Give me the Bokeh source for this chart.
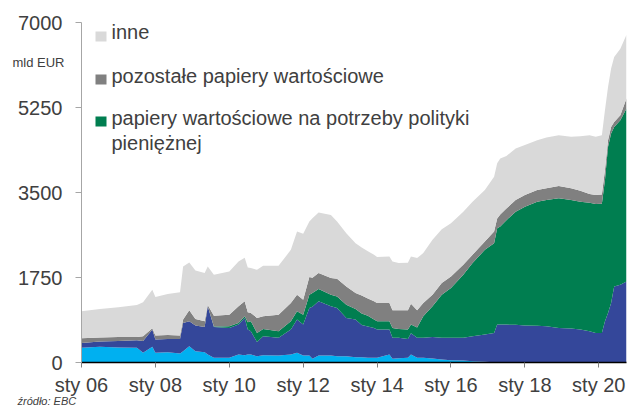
import pandas as pd
from bokeh.plotting import figure
from bokeh.models import ColumnDataSource, FixedTicker, Label, BoxAnnotation, LinearAxis, Title
from bokeh.embed import file_html
from bokeh.resources import INLINE

# ---- data (mld EUR) ----
months = ["2006-01", "2006-07", "2007-01", "2007-07", "2007-09", "2007-12", "2008-01", "2008-05",
          "2008-09", "2008-10", "2008-12", "2009-02", "2009-05", "2009-06", "2009-08", "2010-01",
          "2010-04", "2010-06", "2010-07", "2010-08", "2010-10", "2010-12", "2011-05", "2011-09",
          "2011-11", "2012-01", "2012-03", "2012-04", "2012-06", "2012-10", "2012-12", "2013-03",
          "2013-06", "2013-08", "2013-10", "2013-12", "2014-01", "2014-05", "2014-06", "2014-08",
          "2014-11", "2014-12", "2015-02", "2015-04", "2015-07", "2015-10", "2016-01", "2016-05",
          "2016-08", "2016-12", "2017-03", "2017-04", "2017-05", "2017-07", "2017-10", "2018-01",
          "2018-05", "2018-08", "2018-12", "2019-04", "2019-07", "2019-10", "2019-12", "2020-02",
          "2020-03", "2020-04", "2020-05", "2020-06", "2020-08", "2020-10"]

glowne = [302, 322, 308, 302, 199, 322, 199, 212, 185, 232, 335, 232, 212, 164, 96, 96,
          164, 150, 164, 164, 130, 150, 144, 164, 199, 144, 144, 75, 144, 144, 130, 130,
          110, 110, 100, 96, 96, 164, 75, 90, 100, 164, 100, 96, 80, 62, 48, 40,
          27, 15, 5, 0, 0, 0, 0, 0, 0, 0, 0, 0, 0, 0, 0, 0,
          0, 0, 0, 0, 0, 0]

dlugoterminowe = [102, 109, 133, 156, 242, 355, 273, 274, 301, 583, 513, 528, 521, 992, 637, 616,
                  616, 768, 513, 479, 290, 390, 363, 513, 684, 636, 979, 1075, 1115, 1012, 993, 788,
                  773, 660, 640, 616, 581, 516, 432, 417, 386, 436, 407, 411, 447, 445, 459, 470,
                  513, 560, 604, 780, 780, 780, 775, 760, 755, 745, 712, 700, 677, 643, 609, 609,
                  848, 1020, 1226, 1566, 1601, 1669]

polityka_pieniezna = [0, 0, 0, 0, 0, 0, 0, 0, 0, 0, 0, 0, 0, 0, 7, 34,
                      35, 33, 153, 205, 189, 151, 136, 171, 170, 205, 273, 280, 254, 240, 238, 273,
                      219, 240, 220, 171, 171, 170, 205, 184, 194, 180, 213, 444, 629, 889, 1026, 1297,
                      1506, 1745, 1848, 1985, 2019, 2150, 2331, 2449, 2557, 2601, 2669, 2646, 2635, 2648, 2655, 2661,
                      2909, 3421, 3490, 3285, 3388, 3560]

pozostale = [95, 82, 86, 69, 99, 30, 82, 82, 68, 68, 226, 137, 115, 30, 225, 239,
             341, 308, 203, 172, 309, 260, 342, 378, 343, 308, 363, 315, 328, 343, 364, 376,
             329, 370, 360, 376, 378, 376, 362, 383, 394, 431, 354, 275, 240, 240, 239, 205,
             171, 171, 239, 200, 250, 240, 240, 240, 240, 240, 253, 240, 225, 178, 185, 190,
             205, 137, 135, 103, 102, 205]

inne = [554, 589, 609, 657, 698, 792, 795, 842, 890, 1094, 985, 998, 994, 790, 842, 890,
        924, 897, 924, 924, 992, 1040, 1005, 1094, 1300, 1357, 1142, 1225, 1245, 1299, 1176, 1096,
        1026, 990, 970, 958, 944, 956, 1006, 972, 979, 971, 1075, 1026, 1129, 1109, 1096, 1094,
        1095, 1061, 1129, 1135, 1153, 1080, 1062, 1027, 1026, 1047, 1047, 1060, 1123, 1212, 1197, 1220,
        1232, 1095, 1200, 1334, 1370, 1316]

tick_years = [2006, 2008, 2010, 2012, 2014, 2016, 2018, 2020]
tick_labels = ["sty 06", "sty 08", "sty 10", "sty 12", "sty 14", "sty 16", "sty 18", "sty 20"]
y_ticks = [0, 1750, 3500, 5250, 7000]

legend_names = ["inne", "pozostałe papiery wartościowe",
                "papiery wartościowe na potrzeby polityki\npieniężnej"]
unit_text = "mld EUR"
source_text = "źródło: EBC"

# ---- styling ----
FONT = "Liberation Sans"
TXT = "#404040"
colors = ["#00B0F0", "#34479A", "#007E50", "#808080", "#D9D9D9"]

t = [int(m[:4]) + (int(m[5:7]) - 1) / 12 for m in months]
src = ColumnDataSource(dict(t=t, glowne=glowne, dlugoterminowe=dlugoterminowe,
                            polityka=polityka_pieniezna, pozostale=pozostale, inne=inne))

X0, X1, Y0, Y1 = 2006, 2020.75, 0, 7000
p = figure(width=629, height=405, x_range=(X0, X1), y_range=(Y0, Y1),
           output_backend="svg", toolbar_location=None,
           min_border_left=81, min_border_right=3, min_border_top=22, min_border_bottom=42)
p.varea_stack(stackers=["glowne", "dlugoterminowe", "polityka", "pozostale", "inne"],
              x="t", color=colors, source=src)

p.outline_line_color = None
p.grid.visible = False
p.background_fill_color = "white"
p.border_fill_color = "white"

p.xaxis.ticker = FixedTicker(ticks=tick_years)
p.xaxis.major_label_overrides = {y: l for y, l in zip(tick_years, tick_labels)}
p.xaxis.axis_line_color = "black"
p.xaxis.axis_line_width = 1.5
p.xaxis.major_tick_line_color = "#808080"
p.xaxis.major_tick_out = 5
p.xaxis.major_tick_in = 0
p.xaxis.minor_tick_out = 0
p.xaxis.minor_tick_in = 0
p.xaxis.major_label_standoff = 6

p.yaxis.ticker = FixedTicker(ticks=y_ticks)
p.yaxis.axis_line_color = "#A6A6A6"
p.yaxis.major_tick_line_color = "#A6A6A6"
p.yaxis.major_tick_out = 6
p.yaxis.major_tick_in = 0
p.yaxis.minor_tick_out = 0
p.yaxis.minor_tick_in = 0
p.yaxis.major_label_standoff = 13

for ax in (p.xaxis, p.yaxis):
    ax.major_label_text_font = FONT
    ax.major_label_text_font_size = "20px"
    ax.major_label_text_color = TXT

# unit label: a label-only axis stacked left of the y axis; the negative standoff pulls
# its label back to the right so it takes (almost) no extra room
unit_pos = Y1 * 0.8828  # just below the top tick
unit_ax = LinearAxis(ticker=FixedTicker(ticks=[unit_pos]),
                     major_label_overrides={unit_pos: unit_text},
                     axis_line_color=None, major_tick_line_color=None,
                     minor_tick_line_color=None, major_tick_out=0, major_tick_in=0,
                     minor_tick_out=0, minor_tick_in=0,
                     major_label_standoff=-49, major_label_text_font=FONT,
                     major_label_text_font_size="13px", major_label_text_color=TXT)
p.add_layout(unit_ax, "left")

# source note under the x axis
p.add_layout(Title(text=source_text, align="left", offset=-64, standoff=-7,
                   vertical_align="top", text_font=FONT, text_font_size="11px",
                   text_font_style="italic", text_color=TXT), "below")

# legend (custom)
sq = [(331, 321), (288, 278), (246, 236)]
sq_colors = [colors[4], colors[3], colors[2]]
for (top, bot), c in zip(sq, sq_colors):
    p.add_layout(BoxAnnotation(left=14, right=25, top=top, bottom=bot,
                               left_units="screen", right_units="screen",
                               top_units="screen", bottom_units="screen",
                               fill_color=c, fill_alpha=1, line_color=None))
lines = [legend_names[0], legend_names[1]] + legend_names[2].split("\n")
for txt, yb in zip(lines, [320, 276, 234, 209]):
    p.add_layout(Label(x=30, y=yb, x_units="screen", y_units="screen", text=txt,
                       text_font=FONT, text_font_size="20px", text_color=TXT))

open("out.html", "w").write(file_html(p, INLINE))
